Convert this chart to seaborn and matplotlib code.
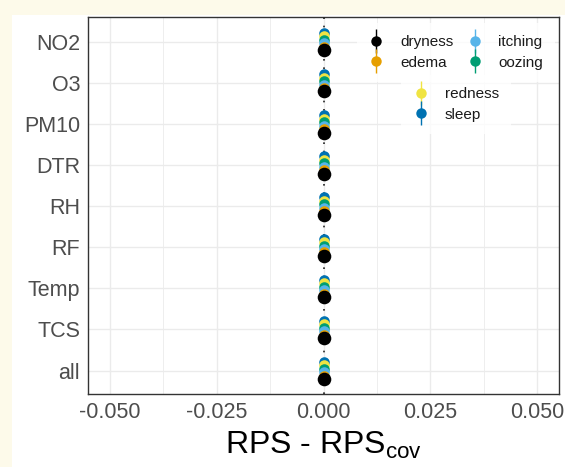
import matplotlib
matplotlib.use("Agg")
import matplotlib.pyplot as plt
from matplotlib.lines import Line2D
from matplotlib.patches import Rectangle
from matplotlib.legend_handler import HandlerTuple
from matplotlib.ticker import MultipleLocator
import numpy as np
import pandas as pd
import seaborn as sns

# ---------------- data ----------------
variables = ["NO2", "O3", "PM10", "DTR", "RH", "RF", "Temp", "TCS", "all"]
symptoms = ["dryness", "edema", "itching", "oozing", "redness", "sleep"]
colors = ["#000000", "#E69F00", "#56B4E9", "#009E73", "#F0E442", "#0072B2"]
# RPS - RPS_cov for each symptom (rows) and variable (columns): all ~0
diff_dryness = [0.0, 0.0, 0.0, 0.0, 0.0, 0.0, 0.0, 0.0, 0.0]
diff_edema = [0.0, 0.0, 0.0, 0.0, 0.0, 0.0, 0.0, 0.0, 0.0]
diff_itching = [0.0, 0.0, 0.0, 0.0, 0.0, 0.0, 0.0, 0.0, 0.0]
diff_oozing = [0.0, 0.0, 0.0, 0.0, 0.0, 0.0, 0.0, 0.0, 0.0]
diff_redness = [0.0, 0.0, 0.0, 0.0, 0.0, 0.0, 0.0, 0.0, 0.0]
diff_sleep = [0.0, 0.0, 0.0, 0.0, 0.0, 0.0, 0.0, 0.0, 0.0]
x_ticks = [-0.050, -0.025, 0.000, 0.025, 0.050]
x_tick_labels = ["-0.050", "-0.025", "0.000", "0.025", "0.050"]

series = [diff_dryness, diff_edema, diff_itching, diff_oozing, diff_redness, diff_sleep]
rows = []
for s, vals in zip(symptoms, series):
    for v, d in zip(variables, vals):
        rows.append({"variable": v, "symptom": s, "diff": d})
df = pd.DataFrame(rows)
palette = dict(zip(symptoms, colors))

# ---------------- style ----------------
sns.set_theme(style="white")
plt.rcParams["font.family"] = ["Liberation Sans", "DejaVu Sans"]
plt.rcParams["mathtext.fontset"] = "custom"
plt.rcParams["mathtext.rm"] = "Liberation Sans"
plt.rcParams["mathtext.it"] = "Liberation Sans:italic"

W, H = 565, 467
fig = plt.figure(figsize=(W / 100, H / 100), dpi=100)
fig.patch.set_facecolor("#FDFAEA")
bg = Rectangle((12 / W, 0), 1 - 12 / W, 1 - 15 / H, transform=fig.transFigure,
               facecolor="white", edgecolor="none", zorder=-10)
fig.patches.append(bg)

ax = fig.add_axes([88 / W, 1 - 394 / H, (559 - 88) / W, (394 - 17) / H])
ax.set_zorder(1)
ax.set_facecolor("white")

ax.axvline(0, color="#222222", linestyle=(0, (1, 4)), linewidth=1.2, zorder=1)

hue_order = symptoms[::-1]  # sleep on top, dryness at bottom (drawn last)
sns.pointplot(data=df, x="diff", y="variable", hue="symptom", order=variables,
              hue_order=hue_order, palette=palette, orient="h", dodge=0.42,
              linestyle="none", errorbar=None, markers="o", markersize=7.6,
              legend=False, ax=ax)

for ln in ax.lines:
    mfc = ln.get_markerfacecolor()
    try:
        rgb = matplotlib.colors.to_hex(mfc)
    except Exception:
        continue
    ln.set_markeredgewidth(0)
    if rgb == "#000000":
        ln.set_markersize(9.8)
    ln.set_zorder(3)

ax.set_xlim(-0.0551, 0.0551)
ax.set_ylim(len(variables) - 1 + 0.57, -0.6)

ax.set_xticks(x_ticks)
ax.set_xticklabels(x_tick_labels)
ax.xaxis.set_minor_locator(MultipleLocator(0.0125))
ax.grid(True, which="major", color="#EBEBEB", linewidth=1.0, zorder=0)
ax.grid(True, which="minor", axis="x", color="#EBEBEB", linewidth=0.6, zorder=0)
ax.set_axisbelow(True)

for sp in ax.spines.values():
    sp.set_visible(True)
    sp.set_color("#333333")
    sp.set_linewidth(1.0)

ax.tick_params(axis="both", which="major", length=3.2, width=0.9, color="#333333",
               labelsize=15.5, labelcolor="#4D4D4D", pad=2.5)
ax.tick_params(axis="both", which="minor", length=0)
ax.set_ylabel("")
ax.set_xlabel(r"RPS - RPS$_{\mathrm{cov}}$", fontsize=23, color="black", labelpad=5)

# ---------------- legends ----------------
def handle(c):
    return (Line2D([], [], color=c, marker="|", markersize=17, markeredgewidth=1.0, linestyle="none"),
            Line2D([], [], color=c, marker="o", markersize=7.5, markeredgewidth=0, linestyle="none"))

leg_kw = dict(handler_map={tuple: HandlerTuple(ndivide=1)}, frameon=True, fontsize=11,
              handlelength=1.0, handletextpad=1.05, labelspacing=0.42, borderpad=0.8,
              loc="center", bbox_transform=fig.transFigure, labelcolor="#1A1A1A")
leg1 = ax.legend([handle(c) for c in colors[:4]], symptoms[:4], ncol=2, columnspacing=0.9,
                 bbox_to_anchor=(456 / W, 1 - 52.5 / H), **leg_kw)
leg1.get_frame().set_facecolor("white")
leg1.get_frame().set_edgecolor("none")
ax.add_artist(leg1)
leg2 = ax.legend([handle(c) for c in colors[4:]], symptoms[4:], ncol=1,
                 bbox_to_anchor=(456 / W, 1 - 104.5 / H), **leg_kw)
leg2.get_frame().set_facecolor("white")
leg2.get_frame().set_edgecolor("none")

fig.savefig("out.png", dpi=100, facecolor=fig.get_facecolor())
